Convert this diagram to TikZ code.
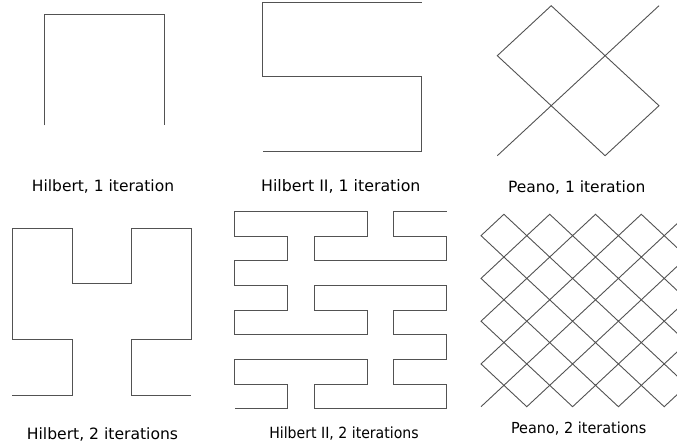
\documentclass[tikz,border=0pt]{standalone}
\usepackage{fontspec}
\setmainfont{DejaVu Sans}
\usetikzlibrary{lindenmayersystems}
\pgfdeclarelindenmayersystem{PeanoLS}{\rule{F -> F+F-F-F-F+F+F+F-F}}
\begin{document}
\begin{tikzpicture}[x=1pt,y=-1pt,
  curve/.style={draw=black!68, line width=0.9pt, line join=miter},
  lbl/.style={anchor=base, inner sep=0pt, text=black}]
\useasboundingbox (0,0) rectangle (677,444);

% Hilbert, 1 iteration
\begin{scope}[shift={(44.7,14.3)}, x=119.6pt, y=-111pt]
  \draw[curve] (0,1) -- (0,0) -- (1,0) -- (1,1);
\end{scope}

% Hilbert II, 1 iteration
\begin{scope}[shift={(262.7,2.3)}, x=79.5pt, y=-74.35pt]
  \draw[curve] (2,0) -- (0,0) -- (0,1) -- (2,1) -- (2,2) -- (0,2);
\end{scope}

% Peano, 1 iteration
\begin{scope}[shift={(497.3,155.7)}, x=53.9pt, y=50pt]
  \draw[curve] (0,0) -- (1,1) -- (0,2) -- (1,3) -- (2,2) -- (3,1) -- (2,0) -- (1,1) -- (2,2) -- (3,3);
\end{scope}

% Hilbert, 2 iterations
\begin{scope}[shift={(12.3,228.3)}, x=59.67pt, y=-55.57pt]
  \draw[curve] (0,3) -- (1,3) -- (1,2) -- (0,2) -- (0,0) -- (1,0) -- (1,1) -- (2,1)
    -- (2,0) -- (3,0) -- (3,2) -- (2,2) -- (2,3) -- (3,3);
\end{scope}

% Hilbert II, 2 iterations
\begin{scope}[shift={(234.7,211.7)}, x=26.5pt, y=-24.62pt]
  \draw[curve] (8,0) -- (6,0) -- (6,1) -- (8,1) -- (8,2) -- (3,2) -- (3,1) -- (5,1)
    -- (5,0) -- (0,0) -- (0,1) -- (2,1) -- (2,2) -- (0,2) -- (0,3) -- (2,3) -- (2,4)
    -- (0,4) -- (0,5) -- (5,5) -- (5,4) -- (3,4) -- (3,3) -- (8,3) -- (8,4) -- (6,4)
    -- (6,5) -- (8,5) -- (8,6) -- (6,6) -- (6,7) -- (8,7) -- (8,8) -- (3,8) -- (3,7)
    -- (5,7) -- (5,6) -- (0,6) -- (0,7) -- (2,7) -- (2,8) -- (0,8);
\end{scope}

% Peano, 2 iterations
\begin{scope}
  \clip (460,200) rectangle (677,420);
  \begin{scope}[cm={2.29,2.138,-2.29,2.138,(481,406.7)}]
    \draw[curve, l-system={PeanoLS, axiom=F, order=2, step=10pt, angle=90}] lindenmayer system;
  \end{scope}
\end{scope}

% labels
\node[lbl, font=\fontsize{15.5}{18}\selectfont] (t1) at (103,191) {Hilbert, 1 iteration};
\node[lbl, font=\fontsize{15.8}{18}\selectfont] (t2) at (340.8,191) {Hilbert II, 1 iteration};
\node[lbl, font=\fontsize{15.5}{18}\selectfont] (t3) at (576.7,192.7) {Peano, 1 iteration};
\node[lbl, font=\fontsize{15.6}{18}\selectfont] (t4) at (102.5,439) {Hilbert, 2 iterations};
\node[lbl, font=\fontsize{15.4}{18}\selectfont] (t5) at (344,438.3) {\scalebox{0.915}[1]{Hilbert II, 2 iterations}};
\node[lbl, font=\fontsize{15.2}{18}\selectfont] (t6) at (578.7,433.3) {\scalebox{0.95}[1]{Peano, 2 iterations}};
\end{tikzpicture}
\end{document}
